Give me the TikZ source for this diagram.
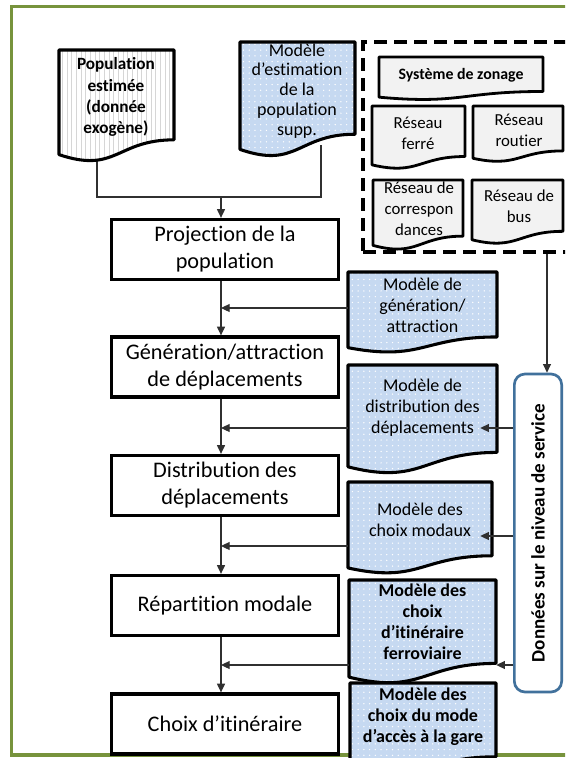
\documentclass[tikz,border=0pt]{standalone}
\usepackage{fontspec}
\setmainfont[Ligatures=NoCommon]{Carlito}
\usetikzlibrary{patterns,arrows.meta,calc}
\definecolor{frameg}{HTML}{77933C}
\definecolor{docblue}{HTML}{C6D9F1}
\definecolor{netgray}{HTML}{F2F2F2}
\definecolor{donblue}{HTML}{41719C}
\definecolor{conn}{HTML}{303030}
\pgfdeclarepatternformonly{wdots}{\pgfpoint{-1pt}{-1pt}}{\pgfpoint{5pt}{5pt}}{\pgfpoint{4.3pt}{4.3pt}}{\pgfpathcircle{\pgfpoint{2pt}{2pt}}{0.55pt}\pgfusepath{fill}}
\pgfdeclarepatternformonly{vstripes}{\pgfpoint{-0.5pt}{-0.5pt}}{\pgfpoint{4pt}{4pt}}{\pgfpoint{3.5pt}{3.5pt}}{\pgfpathrectangle{\pgfpoint{1pt}{-0.5pt}}{\pgfpoint{0.6pt}{4.5pt}}\pgfusepath{fill}}
\newcommand\fmain{\fontsize{16.7}{20.3}\selectfont}
\newcommand\fdoc{\fontsize{13.5}{15.8}\selectfont}
\newcommand\fnet{\fontsize{12.6}{15.7}\selectfont}
% document shape: x y w h style
\newcommand\docshape[5]{\path[#5] (#1,#2) -- ++(#3,0) -- ++(0,{0.802*#4}) .. controls +({-0.5*#3},0) and +({0.5*#3},{0.173*#4}) .. (#1,{#2+0.934*#4}) -- cycle;}
\begin{document}
\begin{tikzpicture}[x=0.75pt,y=-0.75pt,
  conn/.style={draw=conn, line width=0.8pt},
  arr/.style={conn, -{Triangle[length=6.5pt,width=6pt]}},
  mainbox/.style={draw, line width=2.5pt, fill=white, minimum width=170pt, minimum height=45pt, font=\fmain, align=center, inner sep=0pt},
  bluedoc/.style={preaction={fill=docblue}, pattern=wdots, pattern color=white, draw=black, line width=2.3pt, line join=round},
  popdoc/.style={preaction={fill=white}, pattern=vstripes, pattern color=black!16, draw=black, line width=2.3pt, line join=round},
  netdoc/.style={fill=netgray, draw=black, line width=2.1pt, line join=round},
  doctext/.style={font=\fdoc, align=center, inner sep=0pt},
  boldtext/.style={font=\fdoc\bfseries, align=center, inner sep=0pt},
  nettext/.style={font=\fnet, align=center, inner sep=0pt},
  zonebox/.style={draw, line width=2.4pt, dash pattern=on 10pt off 5pt, minimum width=177.75pt, minimum height=157.5pt, inner sep=0pt},
  donbox/.style={draw=donblue, line width=2pt, rounded corners=8pt, fill=white, minimum width=35.5pt, minimum height=238.5pt, inner sep=0pt}]
\useasboundingbox (0,0) rectangle (565,758);
\clip (0,0) rectangle (565,758);
\fill[white] (0,0) rectangle (565,758);
\draw[frameg, line width=2.6pt] (11.5,6.5) rectangle (640,755);

% coordinates of the connector network
\coordinate (mx) at (221,0);
\coordinate (dx) at (547,0);
\coordinate (popb) at (97,155);
\coordinate (estb) at (321,145);
\coordinate (j0) at (221,197);
\coordinate (j1) at (221,308);
\coordinate (j2) at (221,428);
\coordinate (j3) at (221,546);
\coordinate (j4) at (221,665);
\coordinate (k2) at (0,428);
\coordinate (k3) at (0,536);
\coordinate (k4) at (0,665);

% main process boxes
\node[mainbox] (proj) at (225,249.5) {Projection de la\\population};
\node[mainbox] (gen) at (225,367) {Génération/attraction\\de déplacements};
\node[mainbox] (dist) at (225,485.5) {Distribution des\\déplacements};
\node[mainbox] (rep) at (225,605.5) {Répartition modale};
\node[mainbox] (choix) at (225,724) {Choix d’itinéraire};

% connectors under the documents
\draw[conn] (popb) |- (j0) -| (estb);
\draw[arr] (j0) -- (proj.north -| j0);
\draw[arr] (proj.south -| mx) -- (gen.north -| mx);
\draw[arr] (gen.south -| mx) -- (dist.north -| mx);
\draw[arr] (dist.south -| mx) -- (rep.north -| mx);
\draw[arr] (rep.south -| mx) -- (choix.north -| mx);

% input documents (top)
\docshape{59}{50}{115}{112}{popdoc}
\node[boldtext, font=\fontsize{12.9}{15.8}\selectfont\bfseries] (pop) at (116,97) {Population\\estimée\\(donnée\\exogène)};
\docshape{240}{42}{115}{115}{bluedoc}
\node[doctext, font=\fontsize{13.5}{14.9}\selectfont] (est) at (297,91) {Modèle\\d’estimation\\de la\\population\\supp.};

% zoning / network box
\node[zonebox] (zone) at (481.5,147) {};
\docshape{379}{57}{164}{43}{netdoc}
\node[nettext, font=\fontsize{11.9}{14}\selectfont\bfseries] (zon) at (461,75) {Système de zonage};
\docshape{372}{106}{93}{63}{netdoc}
\node[nettext] (fer) at (418,133) {Réseau\\ferré};
\docshape{473}{106}{90}{56}{netdoc}
\node[nettext] (rou) at (519,130) {Réseau\\routier};
\docshape{373}{180}{90}{70}{netdoc}
\node[nettext] (cor) at (419,209) {Réseau de\\correspon\\dances};
\docshape{472}{180}{91}{64}{netdoc}
\node[nettext] (bus) at (519,206) {Réseau de\\bus};

% model documents (right)
\docshape{348}{272}{149}{81}{bluedoc}
\node[doctext, minimum width=111.75pt] (gdoc) at (422.5,305) {Modèle de\\génération/\\attraction};
\docshape{348}{365}{149}{109}{bluedoc}
\node[doctext, minimum width=111.75pt] (ddoc) at (422.5,408) {Modèle de\\distribution des\\déplacements};
\docshape{348}{482}{144}{92}{bluedoc}
\node[doctext, minimum width=108pt] (mdoc) at (420,520) {Modèle des\\choix modaux};
\docshape{349}{580}{147}{104}{bluedoc}
\node[boldtext, minimum width=110.25pt] (fdoc) at (422.5,622) {Modèle des\\choix\\d’itinéraire\\ferroviaire};
\docshape{350}{683}{146}{92}{bluedoc}
\node[boldtext, minimum width=109.5pt] (adoc) at (423,717) {Modèle des\\choix du mode\\d’accès à la gare};

% level of service data
\node[donbox] (don) at (538,533) {};
\node[rotate=90, font=\fontsize{14.3}{16}\selectfont\bfseries, inner sep=0pt] (dontext) at (don.center) {Données sur le niveau de service};

% connectors from models to the main chain
\draw[arr] (gdoc.west |- j1) -- (j1);
\draw[arr] (ddoc.west |- j2) -- (j2);
\draw[arr] (mdoc.west |- j3) -- (j3);
\draw[arr] (fdoc.west |- j4) -- (j4);

% connectors from data
\draw[arr] (zone.south -| dx) -- (don.north -| dx);
\draw[arr, shorten >=-12.75pt] (don.west |- k2) -- (ddoc.east |- k2);
\draw[arr, shorten >=-9pt] (don.west |- k3) -- (mdoc.east |- k3);
\draw[arr] (don.west |- k4) -- (fdoc.east |- k4);
\end{tikzpicture}
\end{document}
